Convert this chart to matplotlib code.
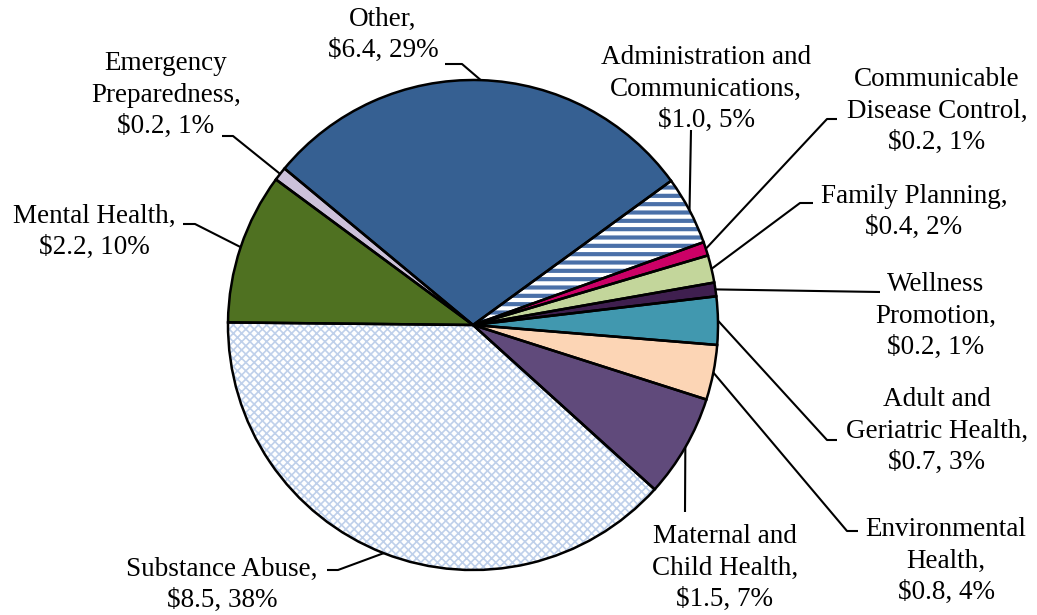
import numpy as np
import matplotlib.pyplot as plt

# spending by program area ($ millions), in drawing order (clockwise)
categories = ["Other", "Administration and\nCommunications", "Communicable\nDisease Control",
              "Family Planning", "Wellness\nPromotion", "Adult and\nGeriatric Health",
              "Environmental\nHealth", "Maternal and\nChild Health", "Substance Abuse",
              "Mental Health", "Emergency\nPreparedness"]
values = [6.4, 1.0, 0.2, 0.4, 0.2, 0.7, 0.8, 1.5, 8.5, 2.2, 0.2]

colors = ["#366092", "white", "#CC0066", "#C3D69B", "#3F1F4F", "#4198AF",
          "#FCD5B5", "#604A7B", "white", "#4F7121", "#CCC1DA"]
hatches = [None, "--", None, None, None, None, None, None, "xxxx", None, None]
hatch_colors = [None, "#4A70A8", None, None, None, None, None, None, "#BFD0EA", None, None]

# label centres and leader-line elbows, in pixels from top-left
label_xy = [(383, 35), (706, 89), (937, 111), (914, 212), (936, 316), (937, 431),
            (946, 561), (725, 568), (222, 585), (94, 232), (166, 95)]
elbows = [[(462, 64), (445, 64)], [(691, 130)], [(827, 119), (837, 119)],
          [(800, 203), (813, 203)], [(880, 292)], [(827, 440), (837, 440)],
          [(847, 531), (858, 531)], [(685, 512)], [(338, 570), (327, 570)],
          [(195, 224), (183, 224)], [(233, 136), (222, 136)]]

W, H = 1037, 615
CX, CY, R = 473, 325, 245


def px(x, y):
    return ((x - CX) / R, (CY - y) / R)


plt.rcParams['hatch.linewidth'] = 3.0
fig = plt.figure(figsize=(W / 100, H / 100), dpi=100)
ax = fig.add_axes([0, 0, 1, 1])

start = 140.3
wedges, _ = ax.pie(values, colors=colors, startangle=start, counterclock=False,
                   wedgeprops=dict(linewidth=0))
for w, h, hc in zip(wedges, hatches, hatch_colors):
    if h:
        w.set_hatch(h)
        w.set_edgecolor(hc)
        if h == "xxxx" and hasattr(w, "set_hatch_linewidth"):
            w.set_hatch_linewidth(1.2)

# black outlines drawn on top
ax.pie(values, startangle=start, counterclock=False,
       wedgeprops=dict(fill=False, edgecolor="black", linewidth=1.8))

total = sum(values)
for i, w in enumerate(wedges):
    ang = np.deg2rad((w.theta1 + w.theta2) / 2)
    pts = [(np.cos(ang), np.sin(ang))] + [px(*p) for p in elbows[i]]
    xs, ys = zip(*pts)
    ax.plot(xs, ys, color="black", lw=1.5, solid_capstyle="butt")

    pct = round(100 * values[i] / total)
    label = "%s,\n$%.1f, %d%%" % (categories[i], values[i], pct)
    ax.text(*px(*label_xy[i]), label, ha="center", va="center", fontsize=19.5,
            family="Liberation Serif", linespacing=1.32)

ax.set_xlim(-CX / R, (W - CX) / R)
ax.set_ylim(-(H - CY) / R, CY / R)
ax.set_aspect("auto")
ax.axis("off")

fig.savefig("out.png", dpi=100, facecolor="white")
